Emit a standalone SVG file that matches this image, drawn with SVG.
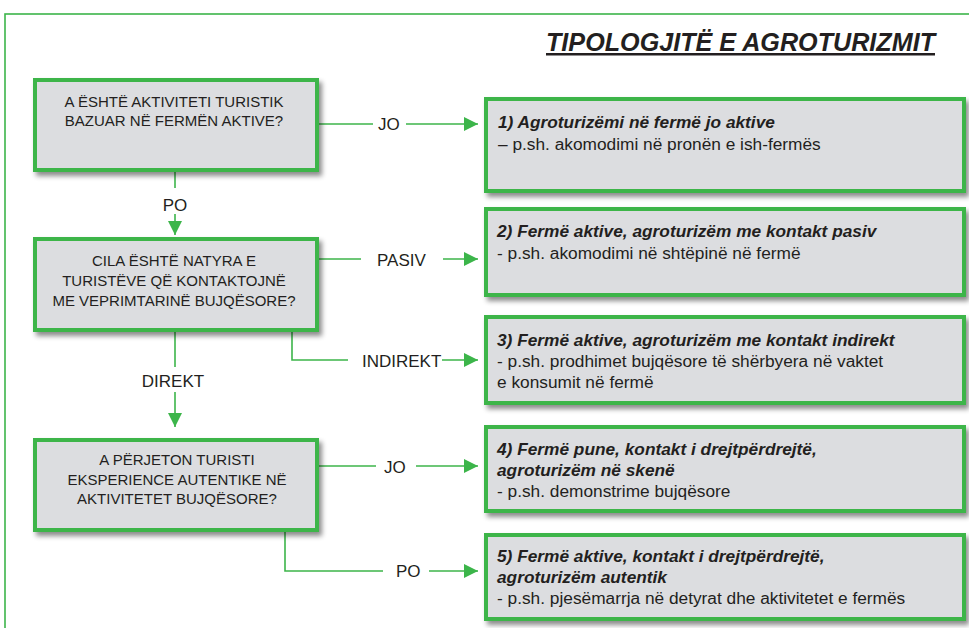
<svg xmlns="http://www.w3.org/2000/svg" width="969" height="628" viewBox="0 0 969 628">
<defs>
<filter id="sh" x="-10%" y="-20%" width="125%" height="150%">
<feDropShadow dx="3" dy="4" stdDeviation="2.5" flood-color="#000" flood-opacity="0.45"/>
</filter>
<marker id="ar" markerUnits="userSpaceOnUse" markerWidth="14" markerHeight="14" viewBox="0 0 14 14" refX="14" refY="7" orient="auto">
<path d="M0,0 L14,7 L0,14 z" fill="#3cb54a"/>
</marker>
<style>
.box{fill:#dcdde0;stroke:#3cb54a;stroke-width:4;filter:url(#sh)}
.q{font-family:"Liberation Sans",Arial,sans-serif;font-size:15px;fill:#231f20;text-anchor:middle}
.lb{font-family:"Liberation Sans",Arial,sans-serif;font-size:17px;fill:#231f20}
.h{font-family:"Liberation Sans",Arial,sans-serif;font-size:17.3px;font-weight:bold;font-style:italic;fill:#231f20}
.t{font-family:"Liberation Sans",Arial,sans-serif;font-size:17.3px;fill:#231f20}
.c{fill:none;stroke:#3cb54a;stroke-width:1.6}
</style>
</defs>
<rect width="969" height="628" fill="#ffffff"/>
<rect x="5" y="14" width="1000" height="700" fill="none" stroke="#3cb54a" stroke-width="1.6"/>
<text x="546" y="51" font-family="'Liberation Sans Narrow','Liberation Sans',Arial,sans-serif" font-size="25" font-weight="bold" font-style="italic" fill="#231f20" text-decoration="underline" textLength="389" lengthAdjust="spacingAndGlyphs">TIPOLOGJITË E AGROTURIZMIT</text>

<g id="connectors">
<line class="c" x1="319" y1="124" x2="373" y2="124"/>
<line class="c" x1="406" y1="124" x2="478" y2="124" marker-end="url(#ar)"/>
<line class="c" x1="175" y1="172" x2="175" y2="188"/>
<line class="c" x1="175" y1="214" x2="175" y2="235" marker-end="url(#ar)"/>
<line class="c" x1="319" y1="259" x2="361" y2="259"/>
<line class="c" x1="443" y1="259" x2="478" y2="259" marker-end="url(#ar)"/>
<polyline class="c" points="292,332 292,360 348,360"/>
<line class="c" x1="442" y1="360" x2="478" y2="360" marker-end="url(#ar)"/>
<line class="c" x1="175" y1="332" x2="175" y2="367"/>
<line class="c" x1="175" y1="392" x2="175" y2="427" marker-end="url(#ar)"/>
<line class="c" x1="319" y1="466" x2="376" y2="466"/>
<line class="c" x1="416" y1="466" x2="478" y2="466" marker-end="url(#ar)"/>
<polyline class="c" points="285,532 285,571 383,571"/>
<line class="c" x1="429" y1="571" x2="478" y2="571" marker-end="url(#ar)"/>
<text class="lb" x="378" y="130">JO</text>
<text class="lb" x="175" y="211" text-anchor="middle">PO</text>
<text class="lb" x="377" y="266">PASIV</text>
<text class="lb" x="362" y="367">INDIREKT</text>
<text class="lb" x="173" y="387" text-anchor="middle">DIREKT</text>
<text class="lb" x="384" y="473">JO</text>
<text class="lb" x="396" y="577">PO</text>
</g>

<g id="q1">
<rect class="box" x="35" y="80" width="282" height="90"/>
<text class="q" x="174" y="107">A ËSHTË AKTIVITETI TURISTIK</text>
<text class="q" x="174" y="126">BAZUAR NË FERMËN AKTIVE?</text>
</g>
<g id="q2">
<rect class="box" x="35" y="239" width="282" height="91"/>
<text class="q" x="174" y="266">CILA ËSHTË NATYRA E</text>
<text class="q" x="174" y="286">TURISTËVE QË KONTAKTOJNË</text>
<text class="q" x="174" y="306">ME VEPRIMTARINË BUJQËSORE?</text>
</g>
<g id="q3">
<rect class="box" x="35" y="440" width="282" height="90"/>
<text class="q" x="177" y="465">A PËRJETON TURISTI</text>
<text class="q" x="177" y="485">EKSPERIENCE AUTENTIKE NË</text>
<text class="q" x="177" y="504">AKTIVITETET BUJQËSORE?</text>
</g>

<g id="r1">
<rect class="box" x="486" y="99" width="478" height="92"/>
<text class="h" x="498" y="128">1) Agroturizëmi në fermë jo aktive</text>
<text class="t" x="498" y="150">– p.sh. akomodimi në pronën e ish-fermës</text>
</g>
<g id="r2">
<rect class="box" x="486" y="209" width="478" height="86"/>
<text class="h" x="497" y="237">2) Fermë aktive, agroturizëm me kontakt pasiv</text>
<text class="t" x="497" y="259">- p.sh. akomodimi në shtëpinë në fermë</text>
</g>
<g id="r3">
<rect class="box" x="486" y="317" width="478" height="86"/>
<text class="h" x="497" y="346">3) Fermë aktive, agroturizëm me kontakt indirekt</text>
<text class="t" x="497" y="367">- p.sh. prodhimet bujqësore të shërbyera në vaktet</text>
<text class="t" x="497" y="388">e konsumit në fermë</text>
</g>
<g id="r4">
<rect class="box" x="486" y="427" width="478" height="84"/>
<text class="h" x="497" y="455">4) Fermë pune, kontakt i drejtpërdrejtë,</text>
<text class="h" x="497" y="476">agroturizëm në skenë</text>
<text class="t" x="497" y="497">- p.sh. demonstrime bujqësore</text>
</g>
<g id="r5">
<rect class="box" x="486" y="535" width="478" height="84"/>
<text class="h" x="497" y="562">5) Fermë aktive, kontakt i drejtpërdrejtë,</text>
<text class="h" x="497" y="583">agroturizëm autentik</text>
<text class="t" x="497" y="604">- p.sh. pjesëmarrja në detyrat dhe aktivitetet e fermës</text>
</g>
</svg>
